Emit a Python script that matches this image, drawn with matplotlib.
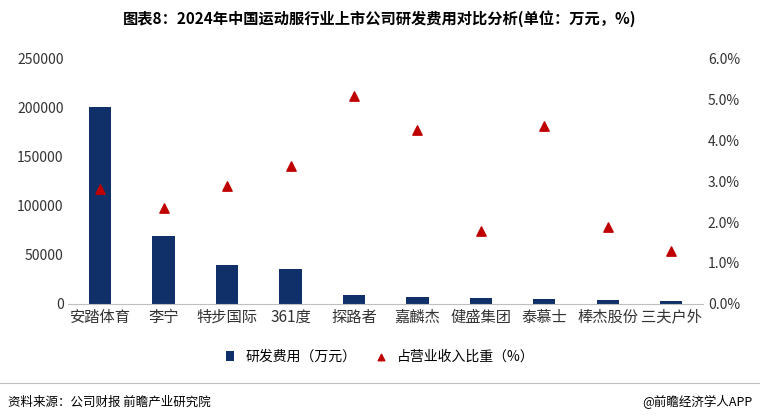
import matplotlib.pyplot as plt
from matplotlib.ticker import FuncFormatter

plt.rcParams['font.family'] = ['Noto Sans CJK SC', 'DejaVu Sans']

companies = ["安踏体育", "李宁", "特步国际", "361度", "探路者", "嘉麟杰", "健盛集团", "泰慕士", "棒杰股份", "三夫户外"]
rd_cost = [200500, 69000, 40000, 35000, 9000, 6500, 6000, 5000, 3500, 2500]
rd_ratio = [2.81, 2.35, 2.89, 3.38, 5.09, 4.25, 1.78, 4.35, 1.88, 1.28]

fig = plt.figure(figsize=(7.6, 4.19), dpi=100)
ax = fig.add_axes([0.09, 0.275, 0.835, 0.585])
ax2 = ax.twinx()

x = range(len(companies))
ax.bar(x, rd_cost, width=0.35, color="#0f3068", label="研发费用（万元）")
ax2.scatter(x, rd_ratio, marker="^", s=45, color="#c00000", label="占营业收入比重（%）", zorder=3)

ax.set_ylim(0, 250000)
ax.set_yticks(range(0, 250001, 50000))
ax2.set_ylim(0, 6)
ax2.set_yticks([0, 1, 2, 3, 4, 5, 6])
ax2.yaxis.set_major_formatter(FuncFormatter(lambda v, _: f"{v:.1f}%"))
ax.set_xlim(-0.5, len(companies) - 0.5)
ax.set_xticks(list(x))
ax.set_xticklabels(companies, fontsize=11)

for a in (ax, ax2):
    for s in a.spines.values():
        s.set_visible(False)
    a.tick_params(length=0, colors="#333333")
ax.spines["bottom"].set_visible(True)
ax.spines["bottom"].set_color("#bfbfbf")
ax.tick_params(axis="y", labelsize=10)
ax2.tick_params(axis="y", labelsize=10)

h1, l1 = ax.get_legend_handles_labels()
h2, l2 = ax2.get_legend_handles_labels()
fig.legend(h1 + h2, l1 + l2, loc="center", bbox_to_anchor=(0.5, 0.148), ncol=2,
           frameon=False, fontsize=10, handlelength=0.6, markerscale=0.7, columnspacing=1.5)

fig.text(0.5, 0.955, "图表8：2024年中国运动服行业上市公司研发费用对比分析(单位：万元，%)",
         ha="center", va="center", fontsize=11, fontweight="bold")
fig.add_artist(plt.Line2D([0.0, 1.0], [0.085, 0.085], color="#bfbfbf", lw=0.8))
fig.text(0.01, 0.04, "资料来源：公司财报 前瞻产业研究院", fontsize=9, va="center")
fig.text(0.99, 0.04, "@前瞻经济学人APP", fontsize=9, va="center", ha="right")

fig.savefig("out.png", dpi=100)
